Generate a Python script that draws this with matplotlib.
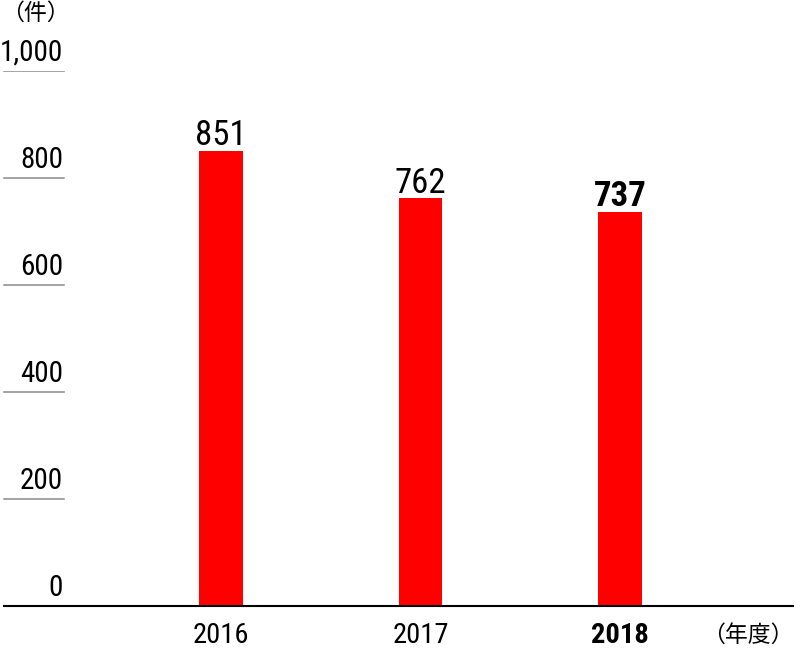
import matplotlib
matplotlib.use('Agg')
import matplotlib.pyplot as plt
from matplotlib import font_manager

# pick a narrow latin face for the numbers, CJK face for the unit labels
_installed = {f.name for f in font_manager.fontManager.ttflist}
if 'Roboto Condensed' in _installed:
    NUM_FONT = dict(family=['Roboto Condensed', 'Noto Sans CJK JP'])
elif 'Liberation Sans Narrow' in _installed:
    NUM_FONT = dict(family=['Liberation Sans Narrow', 'Noto Sans CJK JP'])
else:
    NUM_FONT = dict(family=['DejaVu Sans', 'Noto Sans CJK JP'], fontstretch='condensed')
CJK_FONT = dict(family=['Noto Sans CJK JP', 'DejaVu Sans'])

# -------------------------------------------------------------
# data
# -------------------------------------------------------------
years = ['2016', '2017', '2018']
counts = [851, 762, 737]
yticks = [0, 200, 400, 600, 800, 1000]
ytick_labels = ['0', '200', '400', '600', '800', '1,000']
bold_flags = [False, False, True]

BAR_COLOR = '#ff0000'

fig = plt.figure(figsize=(8, 6.55), dpi=100)
ax = fig.add_axes([0, 49 / 655, 793 / 800, 535 / 655])

x = list(range(len(years)))
ax.bar(x, counts, width=0.216, color=BAR_COLOR, zorder=2)

ax.set_xlim(-1.108, 2.867)
ax.set_ylim(0, 1000)

# hide default axes decoration
for side in ['top', 'right', 'left', 'bottom']:
    ax.spines[side].set_visible(False)
ax.set_xticks([])
ax.set_yticks([])
ax.patch.set_visible(False)

# baseline
ax.axhline(0, xmin=4 / 793, xmax=1.0, color='black', lw=1.5, zorder=3, clip_on=False)

# short grey tick lines with labels sitting on top
ytr = ax.get_yaxis_transform()
for v, lab in zip(yticks, ytick_labels):
    if v != 0:
        ax.axhline(v, xmin=4 / 793, xmax=64 / 793, color='#8a8a8a', lw=1.1)
    ax.annotate(lab, xy=(63 / 793, v), xycoords=ytr, xytext=(0, 7.5),
                textcoords='offset points', ha='right', va='baseline',
                fontsize=21, color='black', **NUM_FONT)

# value labels and year labels
for xi, v, yr, b in zip(x, counts, years, bold_flags):
    w = 'bold' if b else 'normal'
    ax.annotate(f'{v}', xy=(xi, v), xytext=(0, 4), textcoords='offset points',
                ha='center', va='baseline', fontsize=25, fontweight=w, **NUM_FONT)
    ax.annotate(yr, xy=(xi, 0), xytext=(0, -26.5), textcoords='offset points',
                ha='center', va='baseline', fontsize=20.5, fontweight=w,
                annotation_clip=False, **NUM_FONT)

# unit labels
fig.text(1 / 800, 1 - 2 / 655, '（件）', ha='left', va='top', fontsize=16.5, **CJK_FONT)
fig.text(794 / 800, 1 - 642 / 655, '（年度）', ha='right', va='baseline', fontsize=16.5,
         **CJK_FONT)

fig.savefig('out.png', dpi=100)
